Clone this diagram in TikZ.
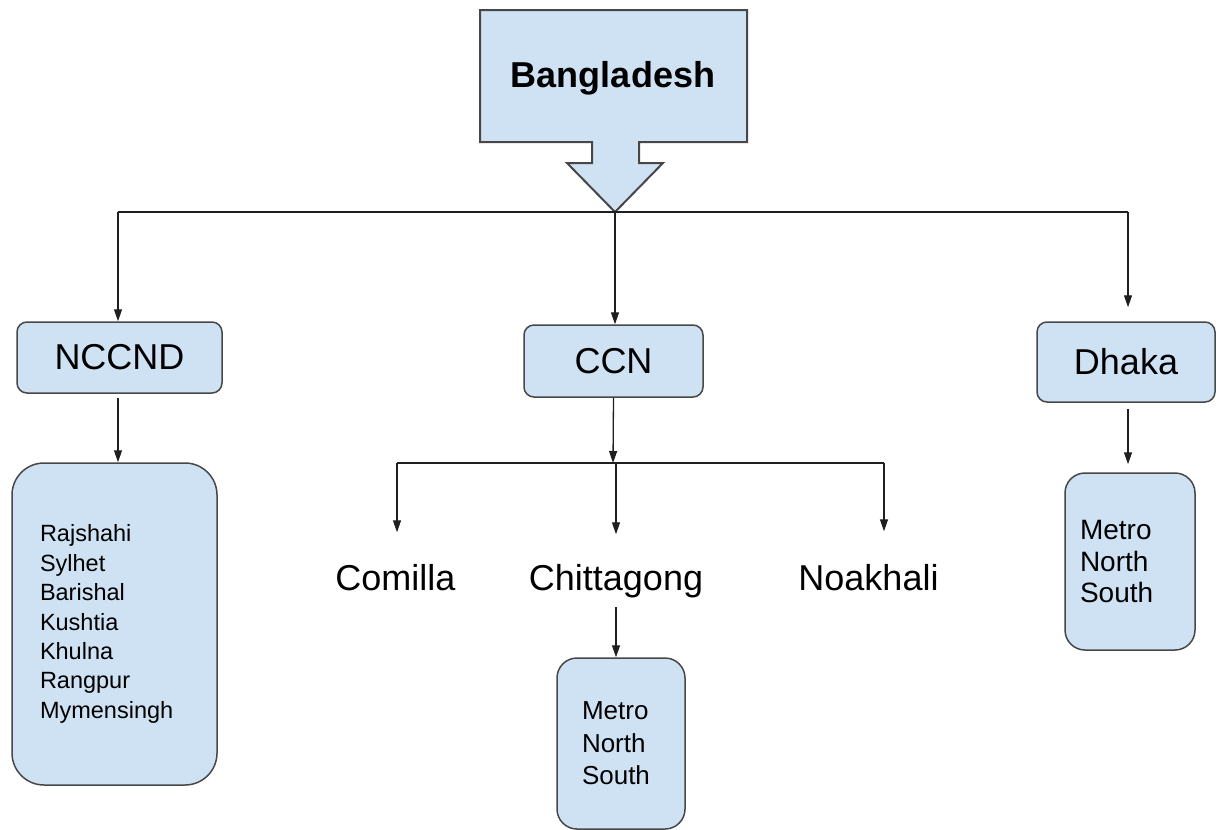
\documentclass[tikz,border=0pt]{standalone}
\usepackage{fontspec}
\setmainfont{Liberation Sans}
\usetikzlibrary{arrows.meta}
\definecolor{boxblue}{HTML}{CFE2F3}
\definecolor{edgegray}{HTML}{474747}
\definecolor{linegray}{HTML}{1F1F1F}

\begin{document}
\begin{tikzpicture}[x=1pt,y=-1pt,line width=1.3pt,linegray,
  arr/.style={-{Triangle[length=12pt,width=8pt]}},
  unitbox/.style={draw=edgegray,line width=1.5pt,fill=boxblue,text=black,rounded corners=10pt,font=\fontsize{36}{40}\selectfont},
  listbox/.style={draw=edgegray,line width=1.5pt,fill=boxblue,text=black,align=left,minimum height=#1},
  leaf/.style={inner sep=0pt,anchor=base,text=black,font=\fontsize{36}{40}\selectfont}]
  \useasboundingbox (0,0) rectangle (1216,830);
  % country box with its arrow
  \draw[edgegray,line width=2pt,fill=boxblue] (480,10) -- (747,10) -- (747,142) -- (639,142) -- (639,163) -- (663,163) -- (615,212) -- (567,163) -- (592,163) -- (592,142) -- (480,142) -- cycle;
  \node[text=black,font=\bfseries\fontsize{36}{40}\selectfont] (bd) at (613,78) {Bangladesh};
  \coordinate (tip) at (615,212);
  \coordinate (lend) at (118,212);
  \coordinate (rend) at (1128,212);

  % divisions
  \node[unitbox,minimum width=205pt,minimum height=71pt] (nccnd) at (119.5,357.5) {NCCND};
  \node[unitbox,minimum width=179pt,minimum height=72pt] (ccn) at (613.5,361) {CCN};
  \node[unitbox,minimum width=178pt,minimum height=80pt] (dhaka) at (1126,362) {Dhaka};

  \draw (lend) -- (rend);
  \draw[arr] (lend) -- (lend |- nccnd.north);
  \draw[arr] (tip) -- (tip |- ccn.north);
  \draw[arr,shorten >=14pt] (rend) -- (rend |- dhaka.north);

  % NCCND
  \node[listbox=322pt,minimum width=205pt,rounded corners=32pt,inner xsep=28pt,text width=149pt,font=\fontsize{23.5}{29.4}\selectfont] (nlist) at (114.5,624)
    {Rajshahi\\Sylhet\\Barishal\\Kushtia\\Khulna\\Rangpur\\Mymensingh};
  \draw[arr,shorten <=4pt] (nccnd.south -| lend) -- (lend |- nlist.north);

  % CCN
  \coordinate (cj) at (613,463);
  \coordinate (cl) at (397,463);
  \coordinate (cr) at (884,463);
  \draw[arr] (ccn.south) -- (cj);
  \draw (cl) -- (cr);
  \node[leaf] (comilla) at (395.5,590) {Comilla};
  \node[leaf] (chit) at (616,590) {Chittagong};
  \node[leaf] (noakhali) at (868.5,590) {Noakhali};
  \draw[arr,shorten >=31pt] (cl) -- (cl |- comilla.north);
  \draw[arr,shorten >=29pt] (cj -| chit) -- (chit.north);
  \draw[arr,shorten >=32pt] (cr) -- (cr |- noakhali.north);
  \node[listbox=171pt,minimum width=128pt,rounded corners=20pt,inner xsep=25pt,text width=78pt,font=\fontsize{26}{32.5}\selectfont] (clist) at (621,743.5)
    {Metro\\North\\South};
  \draw[arr,shorten <=9pt] (chit.south) -- (chit.south |- clist.north);

  % Dhaka
  \node[listbox=177pt,minimum width=130pt,rounded corners=20pt,inner xsep=15pt,text width=100pt,font=\fontsize{28}{31.7}\selectfont] (dlist) at (1130,561.5)
    {Metro\\North\\South};
  \draw[arr,shorten <=6pt,shorten >=8pt] (dhaka.south -| rend) -- (rend |- dlist.north);
\end{tikzpicture}
\end{document}
